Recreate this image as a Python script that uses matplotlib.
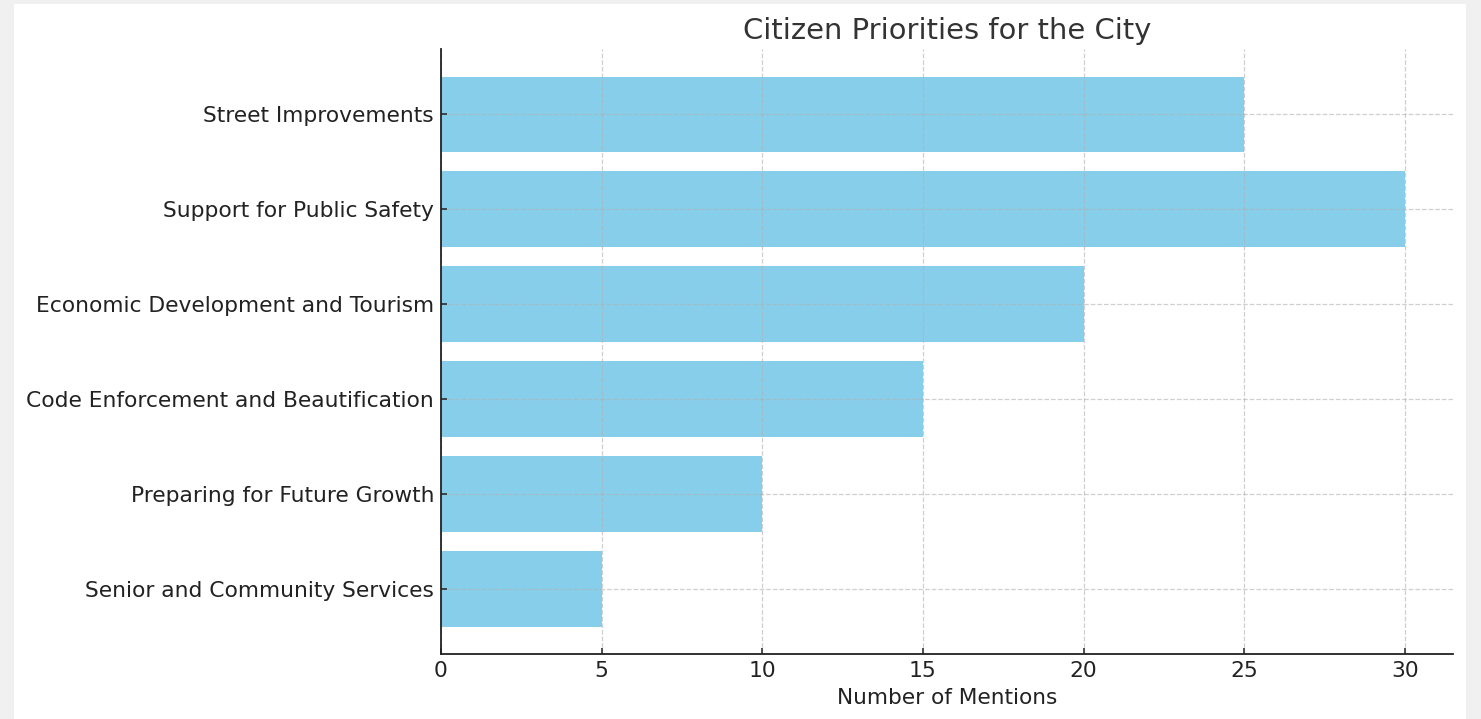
import matplotlib
matplotlib.use('Agg')
import matplotlib.pyplot as plt
import matplotlib.patches as mpatches

# citizen priorities survey
categories = ['Street Improvements', 'Support for Public Safety',
              'Economic Development and Tourism', 'Code Enforcement and Beautification',
              'Preparing for Future Growth', 'Senior and Community Services']
mentions = [25, 30, 20, 15, 10, 5]

plt.rcParams['font.family'] = 'DejaVu Sans'

fig = plt.figure(figsize=(14.81, 7.19), dpi=100, facecolor='#f0f0f0')
# white sheet inside the grey frame
fig.patches.append(mpatches.Rectangle((0.00945, 0.0), 0.9805, 0.9944,
                                      transform=fig.transFigure, facecolor='white',
                                      edgecolor='none', zorder=-10))
ax = fig.add_axes([0.2978, 0.0904, 0.6833, 0.8414])
ax.set_facecolor('white')
ax.set_zorder(5)

ax.barh(categories, mentions, color='skyblue', height=0.8)
ax.invert_yaxis()
ax.set_axisbelow('line')  # grid + ticks drawn over the bars
ax.grid(True, linestyle='--', color='#b0b0b0', alpha=0.6, linewidth=0.9)

ax.spines['top'].set_visible(False)
ax.spines['right'].set_visible(False)
for s in ['left', 'bottom']:
    ax.spines[s].set_color('#222222')
    ax.spines[s].set_linewidth(1.3)

ax.tick_params(axis='both', labelsize=15.7, colors='#222222', length=4.5,
               width=1.1, direction='in', pad=5)
ax.set_xlabel('Number of Mentions', fontsize=15.6, color='#222222', labelpad=5)
ax.set_title('Citizen Priorities for the City', fontsize=20.9, color='#333333', pad=7)

fig.savefig('out.png', dpi=100, facecolor=fig.get_facecolor())
